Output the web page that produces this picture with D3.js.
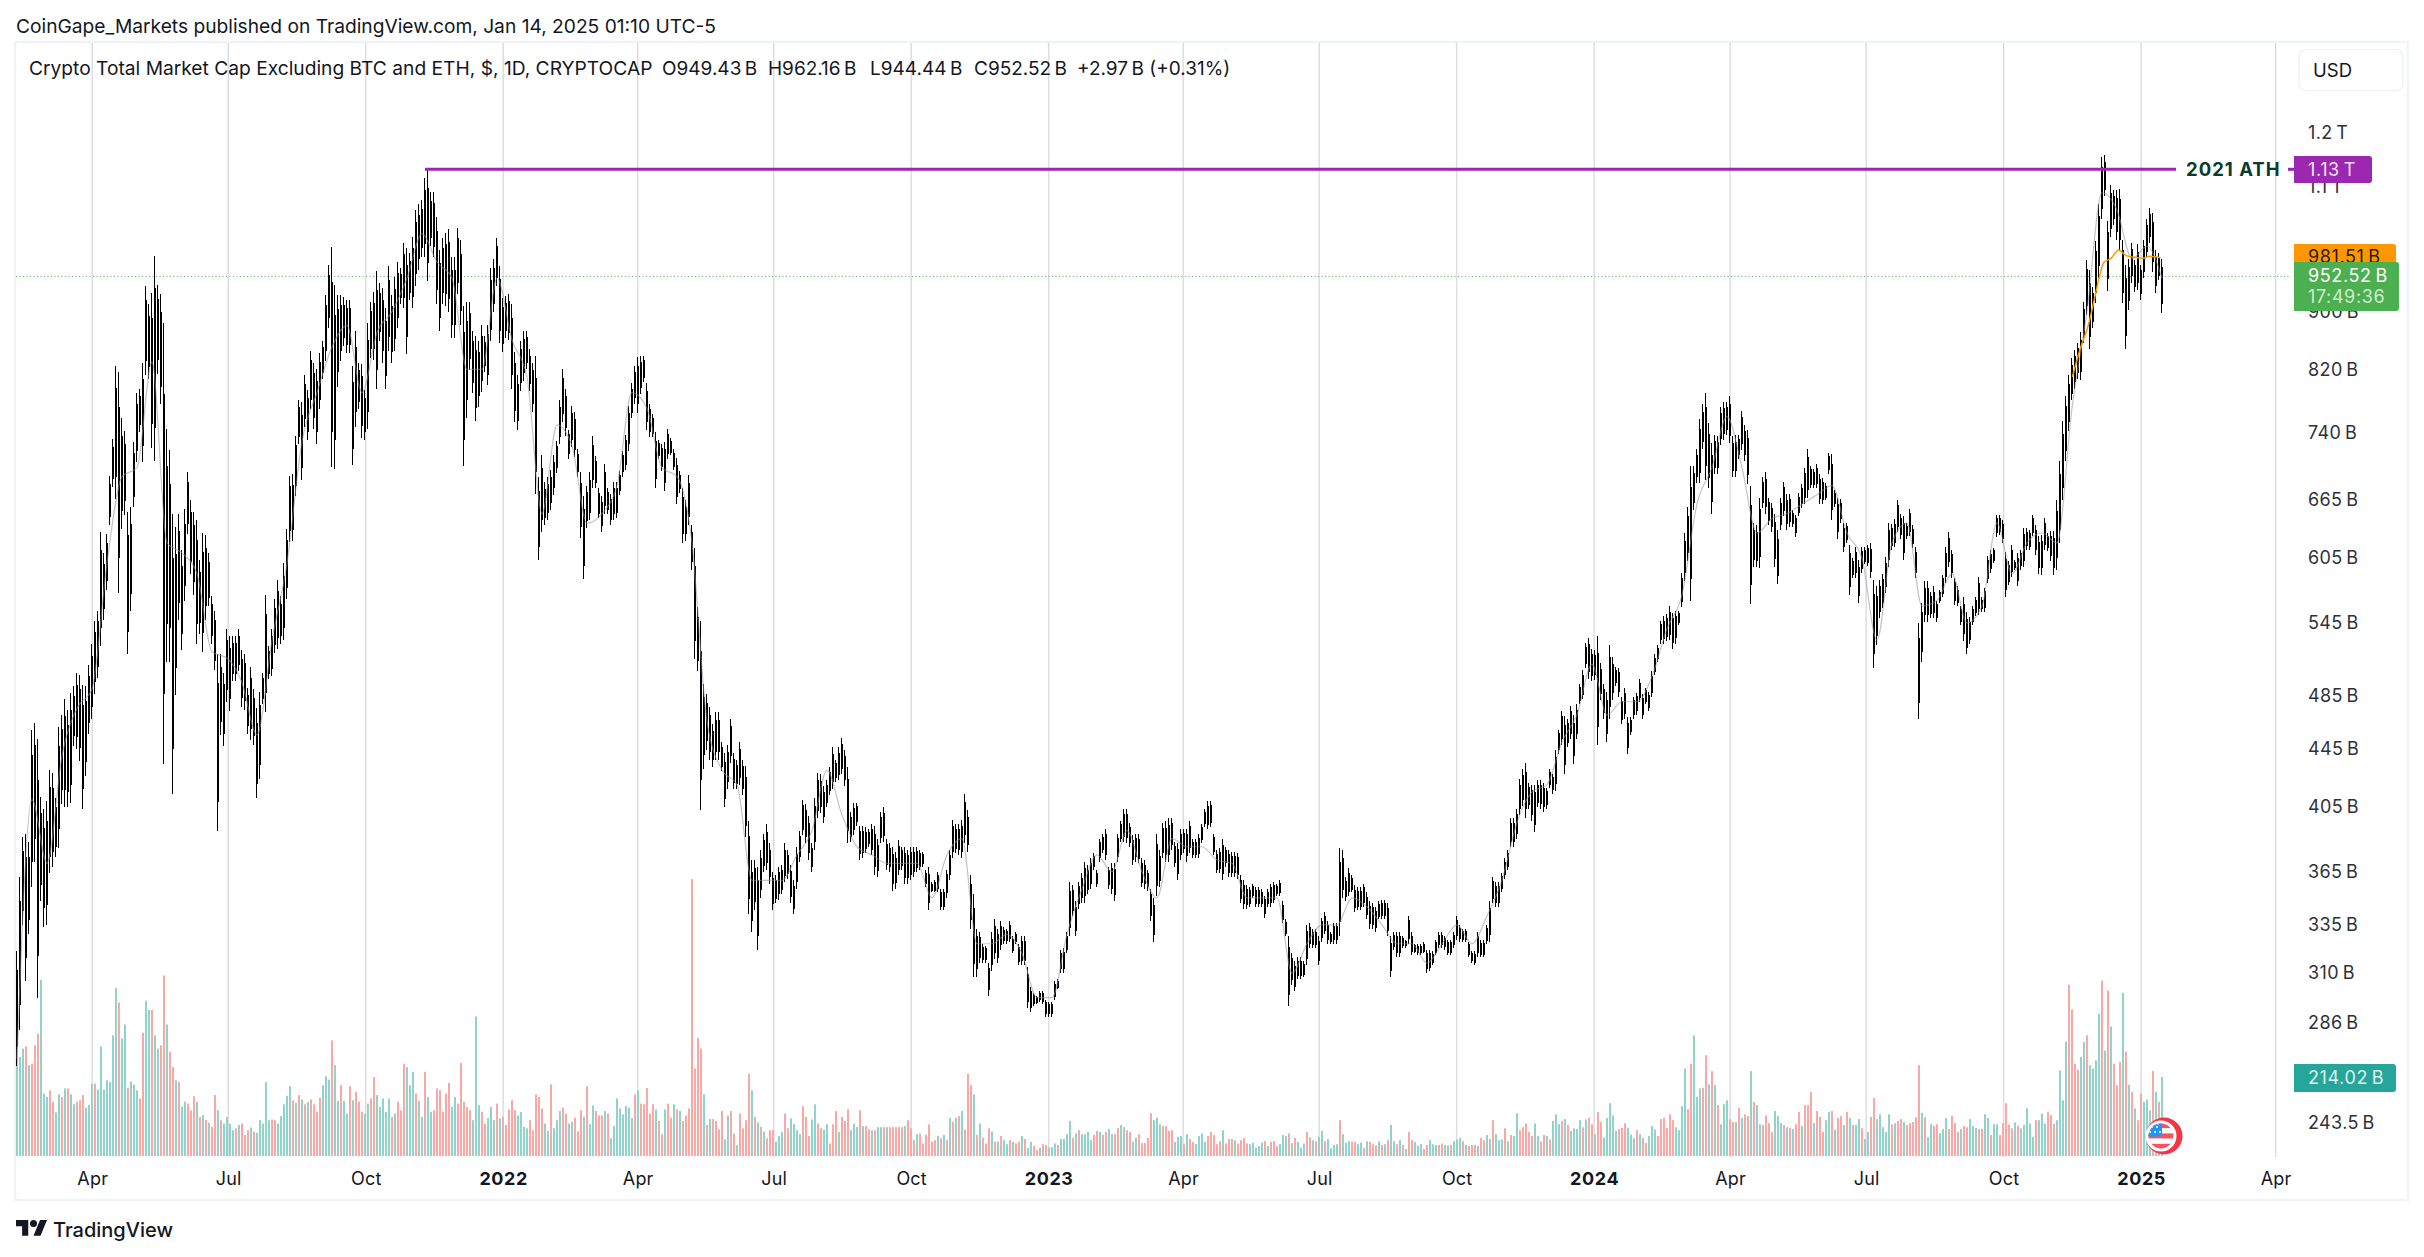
<!DOCTYPE html>
<html>
<head>
<meta charset="utf-8">
<script src="https://cdn.jsdelivr.net/npm/d3@7/dist/d3.min.js"></script>
<style>
html,body{margin:0;padding:0;background:#fff;overflow:hidden}
text{font-family:Inter,"Noto Sans",sans-serif}
</style>
</head>
<body>
<svg id="c" width="2424" height="1257" xmlns="http://www.w3.org/2000/svg"></svg>
<script>
// Values, in billions of USD. One entry per visible stripe (about two days).
const highs=[
321,362,386,388,383,459,464,452,412,404,409,430,428,411,461,
470,482,474,487,492,503,501,493,492,509,527,547,556,631,610,
629,691,733,824,817,758,743,652,657,729,789,794,829,938,911,
927,985,939,926,883,745,720,650,636,650,613,655,695,664,652,
643,603,630,628,610,569,556,518,518,503,540,534,534,534,540,
522,518,491,508,490,475,488,503,570,525,540,566,584,569,600,
634,691,693,737,780,778,812,793,845,829,820,842,858,925,971,
999,939,925,925,922,917,917,824,872,829,827,793,884,914,929,
961,942,935,905,968,924,951,975,965,1005,997,989,1015,1060,1070,
1077,1117,1130,1091,1091,1048,994,1014,1022,1028,983,983,1030,1010,908,
914,914,873,865,858,881,865,881,965,979,1013,968,920,923,926,
911,843,812,859,873,873,847,829,838,689,714,684,689,697,714,
731,780,820,795,744,773,766,721,695,669,680,695,736,713,677,
669,704,677,671,684,684,696,719,738,773,802,825,837,838,838,
802,776,763,741,732,727,730,745,734,721,711,696,677,664,692,
638,615,559,547,494,486,476,463,472,472,450,442,448,467,442,
437,450,437,433,396,372,372,368,378,388,394,382,365,363,368,
369,382,378,369,360,380,390,410,407,399,382,411,428,427,419,
423,432,446,437,446,453,444,432,402,408,408,393,393,392,391,
394,393,385,402,405,385,382,380,377,384,380,380,378,380,380,
380,378,377,366,368,359,360,365,355,355,366,378,397,394,394,
397,414,403,363,352,333,331,325,324,315,331,338,333,337,334,
333,337,329,331,325,329,329,313,303,300,299,301,301,297,296,
296,306,307,322,323,331,359,357,348,359,364,371,369,373,376,
366,385,388,391,368,370,370,388,396,404,404,395,387,388,388,
373,372,366,355,350,388,378,395,396,398,398,383,382,391,391,
391,396,385,385,388,394,404,409,409,388,378,379,385,380,378,
377,377,376,363,360,357,356,358,356,356,355,351,355,358,359,
358,360,348,338,329,320,316,318,318,316,335,336,333,333,329,
339,342,337,331,336,336,379,378,362,367,363,357,356,356,358,
353,348,347,345,348,349,349,347,329,331,331,331,329,327,340,
331,325,325,325,326,322,322,321,327,331,331,329,327,327,331,
340,335,333,333,326,321,321,331,327,327,335,348,362,359,359,
364,373,378,398,398,404,424,431,435,421,420,420,423,423,421,
418,431,427,444,459,473,469,467,477,470,478,494,505,528,532,
523,522,534,511,494,488,526,516,508,507,484,491,468,468,484,
487,498,486,491,488,504,518,526,547,551,553,560,554,556,556,
591,630,657,702,702,721,757,775,789,752,728,738,737,772,778,
778,785,736,738,738,767,750,744,680,640,638,667,689,695,667,
661,650,633,667,684,671,671,654,649,672,682,700,721,702,698,
704,693,688,683,717,716,675,667,665,640,640,618,605,616,603,
616,616,618,620,584,578,584,590,606,640,639,644,664,650,647,
640,655,638,616,545,563,583,583,573,578,565,575,589,616,631,
613,586,578,560,568,555,550,560,568,587,568,577,607,613,615,
649,649,643,611,602,618,603,610,613,635,635,633,649,638,627,
628,645,630,632,632,664,707,754,786,812,835,846,856,871,914,
978,962,937,1009,1070,1155,1158,1042,1104,1095,1095,1097,1010,971,980,
1006,978,1003,971,1010,1045,1063,1055,994,989,980];

const lows=[
267,283,335,306,330,356,371,298,348,334,335,364,368,374,379,
407,405,405,408,447,445,436,404,426,456,467,486,499,525,548,
575,638,679,666,572,634,649,518,556,657,706,741,706,812,808,
722,708,814,775,434,512,512,414,485,548,522,565,629,590,570,
527,535,520,548,560,527,505,390,455,447,480,473,496,496,504,
476,474,456,451,448,411,424,478,472,498,500,519,523,527,530,
566,621,622,669,727,686,747,732,769,745,727,769,808,831,876,
701,698,797,831,851,842,842,703,747,769,734,732,745,835,832,
794,858,829,794,845,829,845,876,911,905,840,917,905,938,963,
983,983,946,1000,983,911,873,911,908,899,862,863,926,881,702,
758,819,789,754,772,791,817,800,858,899,938,855,843,863,860,
795,753,744,792,805,821,792,766,671,603,631,638,643,654,670,
694,727,753,737,710,724,712,690,625,585,635,643,677,677,645,
631,650,650,638,643,645,670,690,697,719,758,776,765,788,803,
744,735,735,677,710,696,674,710,714,697,660,672,620,622,638,
594,514,504,403,431,444,437,432,437,437,429,405,417,435,417,
417,420,413,386,341,331,343,322,350,365,366,358,343,347,349,
352,359,361,347,341,355,371,387,382,372,365,378,398,401,395,
405,413,417,422,423,427,419,382,383,387,393,372,373,376,380,
375,363,362,382,383,366,365,354,355,363,366,358,358,360,362,
365,366,368,356,343,353,353,353,343,343,350,360,373,376,375,
373,382,377,333,308,308,315,315,315,299,311,317,315,322,325,
325,326,320,325,314,314,314,293,291,294,295,296,295,289,289,
289,297,302,310,310,320,329,340,329,344,347,347,352,355,366,
356,371,376,372,355,352,348,371,383,383,382,380,369,371,370,
356,355,354,337,326,351,356,373,371,371,378,368,360,372,376,
371,376,373,373,373,382,392,391,392,375,364,364,360,368,362,
362,362,361,347,344,344,345,350,345,345,345,339,345,345,347,
351,351,336,329,294,304,301,307,307,308,314,323,323,323,314,
326,330,325,325,325,325,329,350,348,351,353,342,343,343,345,
338,333,333,331,338,338,338,329,308,322,318,318,323,323,325,
319,320,319,319,320,310,311,314,319,323,323,322,319,319,323,
327,326,326,326,318,315,314,318,318,318,325,326,347,345,345,
353,361,366,380,380,385,400,406,398,404,396,389,405,404,402,
404,418,414,416,441,448,427,446,452,434,452,478,482,507,498,
496,497,448,481,467,450,467,481,492,484,463,467,441,455,467,
470,480,467,478,473,484,501,512,527,527,529,530,523,527,543,
559,583,602,565,654,683,683,721,686,677,650,693,693,726,732,
738,728,689,689,710,720,708,682,562,596,596,595,656,650,638,
631,596,580,633,647,633,636,636,626,647,656,660,667,677,677,
677,660,660,664,693,643,657,624,640,611,620,570,586,586,563,
591,599,597,586,507,526,549,558,572,596,613,616,631,624,603,
624,627,615,586,467,512,546,546,549,549,546,563,568,581,596,
586,561,560,543,529,518,527,543,551,552,555,555,581,591,600,
626,628,620,568,579,587,594,578,594,596,613,613,627,608,590,
589,613,612,602,589,594,620,664,707,743,780,795,808,806,856,
895,847,876,912,950,1045,1084,931,1015,1035,1010,994,912,847,903,
943,929,932,917,950,981,1006,960,927,947,898];

// Volume in billions; a negative sign marks a down bar (pink), positive an up bar (teal).
const volumes=[
302,268,291,-297,246,-250,-300,-331,477,169,160,-178,-147,118,167,
-160,183,-183,167,140,-147,-151,-165,131,138,196,-196,180,297,180,
205,200,327,455,-416,318,356,-185,202,193,178,-156,-334,421,396,
-396,327,291,-300,-489,356,-282,-241,205,-201,133,147,-142,-124,-162,
147,-106,111,-97,90,-79,-165,124,-97,88,106,88,70,-75,84,
-88,-57,-70,77,-66,63,97,88,200,97,-99,-97,88,108,140,
163,189,-151,144,-165,153,-140,146,-153,-140,-120,-158,192,216,207,
-313,246,149,-192,149,115,-189,151,-174,-147,-120,115,142,-156,-214,
165,133,156,120,156,-106,115,-147,-124,-250,241,192,228,-169,149,
106,-228,160,120,-124,-183,-178,-120,-169,-198,133,160,-142,-252,-147,
-133,-124,97,378,138,-120,-88,102,133,97,-142,102,-106,-84,-126,
-151,-124,110,119,79,75,-97,-70,-167,-160,-129,88,68,-194,75,
97,122,-131,-115,88,93,-104,-67,-124,106,-189,86,137,-122,-110,
-110,122,-115,48,81,156,129,113,135,131,103,-167,178,-142,-140,
-184,-115,-140,126,-95,-59,126,-142,-104,140,-126,122,-95,-110,-129,
-750,-237,-320,-291,167,-84,100,-100,-95,-72,-122,45,110,-122,-61,
29,-115,-75,-97,-223,178,-106,91,-79,66,-48,-70,-70,39,54,
65,-115,-75,102,86,70,59,-135,-106,-54,99,140,-88,-75,72,
86,-34,-86,-122,65,-106,-95,-127,70,88,79,-124,81,-81,-72,
70,-70,78,78,-78,78,-78,-78,-78,-78,-78,81,-97,-75,-43,
59,-61,-34,-57,-86,-39,-43,54,-48,57,-43,103,-93,103,-108,
122,-72,-223,-192,167,-57,88,-50,-34,-75,66,-39,39,-54,43,
32,-43,38,-34,-38,54,-46,22,38,-27,-16,22,-32,-30,23,
24,34,-30,46,46,59,95,-50,61,-70,59,59,65,43,-57,
-68,65,-57,-65,73,59,-59,-76,84,78,-70,-65,39,50,-59,
-35,-35,-49,-116,97,104,86,-81,-81,-68,-70,38,52,54,-32,
59,-46,-38,32,54,61,38,-54,-65,-57,-32,-40,70,-34,-46,
-46,43,-34,-43,-49,-34,32,36,23,27,36,-40,27,-38,-40,
-27,32,57,54,-61,35,-49,38,23,34,-65,-51,43,-40,52,
68,-40,46,21,30,32,-97,59,36,40,-39,-38,32,36,-22,
40,-38,-32,-29,40,-30,32,-43,84,40,-32,43,-30,19,-65,
-43,38,28,32,-19,-30,43,32,30,-30,-34,30,29,-30,40,
45,49,-40,30,-27,-30,-30,27,-49,-43,57,46,-97,59,43,
45,-75,40,-57,54,116,-70,-78,-88,-65,-54,88,54,-39,-57,
54,-45,95,113,86,-95,100,-84,68,75,73,97,-78,99,-103,
-86,59,-119,-92,50,103,143,110,68,-73,-76,-89,76,58,48,
-70,59,-49,-35,54,81,72,-54,-100,-103,-76,-113,-97,78,70,
135,237,-127,-250,327,160,183,-185,-273,194,-230,192,-138,86,140,
151,-100,-92,92,-130,103,-113,-108,230,-146,138,86,-84,-110,-89,
-65,122,108,89,-84,78,-76,73,-86,-119,81,-138,-138,-173,89,
-122,-106,-65,97,119,-122,72,-103,-108,84,-119,103,-84,84,100,
-75,46,65,-106,-157,100,113,78,65,113,-86,89,-95,-100,92,
-84,-89,-92,-105,-246,117,-105,51,86,-81,-86,62,73,103,-73,
-108,-89,-65,73,-81,-78,100,81,76,-73,-73,113,103,-57,86,
86,-57,-89,-143,-85,-75,91,-82,75,85,129,88,52,-97,97,
115,88,-120,-111,-88,97,232,151,310,-464,-397,-250,-234,268,309,
-327,246,237,259,385,-475,286,-448,351,-250,-192,-255,442,-283,193,
-174,129,-97,-169,147,153,124,-230,174,-147,214.02];

// Grey close trace, one value per five stripes.
const closeTrace=[
270,410,370, 440,475,490, 600,690,700, 830,620,610, 590,520,515, 495,455,530,
600,730,790, 850,880,790, 870,900,950, 1020,975,950, 820,820,950, 860,810,650,
750,725,640, 650,680,790, 770,700,690, 620,465,430, 420,360,360, 360,375,390,
430,400,380, 375,370,370, 370,350,375, 385,325,325, 330,320,298, 298,330,355,
375,365,390, 365,350,385, 380,380,372, 370,350,350, 350,310,325, 335,335,350,
345,335,325, 325,315,325, 335,325,340, 360,395,415, 420,450,470, 510,470,480,
480,500,540, 570,660,700, 760,700,630, 645,650,660, 670,680,630, 605,530,620,
640,560,565, 590,545,560, 640,590,620, 630,620,770, 900,1090,1060, 980,1000,950];

// Orange moving-average segment at the right end.
const maDates=["2024-11-16","2024-11-21","2024-11-27","2024-12-01","2024-12-04","2024-12-07","2024-12-12","2024-12-17","2024-12-22","2024-12-29","2025-01-02","2025-01-07","2025-01-14"];
const maValues=[810,846,883,921,951,974,981,994,985,982,981,984,981.51];

const priceTicks=[1200,1100,900,820,740,665,605,545,485,445,405,365,335,310,286,243.5];
const priceTickLabels=["1.2 T","1.1 T","900 B","820 B","740 B","665 B","605 B","545 B","485 B","445 B","405 B","365 B","335 B","310 B","286 B","243.5 B"];
const timeTicks=["2021-04-01","2021-07-01","2021-10-01","2022-01-01","2022-04-01","2022-07-01","2022-10-01","2023-01-01","2023-04-01","2023-07-01","2023-10-01","2024-01-01","2024-04-01","2024-07-01","2024-10-01","2025-01-01","2025-04-01"];
const timeTickLabels=["Apr","Jul","Oct","2022","Apr","Jul","Oct","2023","Apr","Jul","Oct","2024","Apr","Jul","Oct","2025","Apr"];
const athValue=1132, lastClose=952.52, lastVolume=214.02, maLast=981.51;

const published="CoinGape_Markets published on TradingView.com, Jan 14, 2025 01:10 UTC-5";
const title="Crypto Total Market Cap Excluding BTC and ETH, $, 1D, CRYPTOCAP";
const ohlcLabels=["O949.43\u2009B","H962.16\u2009B","L944.44\u2009B","C952.52\u2009B","+2.97\u2009B (+0.31%)"];
const ohlcStarts=[662,768,870,974,1077];

const W=2424,H=1257,L=16,T=43,PB=1157,R=2408,Bot=1200;
const svg=d3.select("#c");
const DAY=864e5, STEP=2.0074*DAY, T0=Date.UTC(2021,1,9);
const x=d3.scaleUtc().domain([new Date(T0),new Date(Date.UTC(2025,3,1))]).range([L,2275.6]);
const y=d3.scaleLog().domain([1387.5,230.5]).range([T,PB]);
const yv=d3.scaleLinear().domain([0,214.02]).range([1156,1077]);
const dt=i=>new Date(T0+i*STEP);
const ink="#131722";

// frame
svg.append("rect").attr("x",L-1).attr("y",T-1).attr("width",R-L+1).attr("height",Bot-T+1)
  .attr("fill","#fff").attr("stroke","#f0f3fa").attr("stroke-width",2.5);

// time axis + grid
const tDates=timeTicks.map(s=>new Date(s+"T00:00:00Z"));
const gx=svg.append("g").attr("transform",`translate(0,${PB})`)
  .call(d3.axisBottom(x).tickValues(tDates).tickSize(0).tickPadding(15)
    .tickFormat((d,i)=>timeTickLabels[i]));
gx.select(".domain").remove();
gx.selectAll("text").attr("font-size",18).attr("fill",ink)
  .attr("font-weight",(d,i)=>/^\d/.test(timeTickLabels[i])?700:400)
  .attr("letter-spacing",(d,i)=>/^\d/.test(timeTickLabels[i])?0.6:0.2);
svg.append("g").selectAll("line").data(tDates).join("line")
  .attr("x1",d=>x(d)).attr("x2",d=>x(d)).attr("y1",T).attr("y2",PB)
  .attr("stroke","#dcdde3").attr("stroke-width",1.5);

const plot=svg.append("g");

// volume
plot.append("g").selectAll("rect").data(volumes).join("rect")
  .attr("x",(d,i)=>Math.round(x(dt(i)))).attr("width",2)
  .attr("y",d=>yv(Math.abs(d))).attr("height",d=>yv(0)-yv(Math.abs(d)))
  .attr("fill",d=>d<0?"#f9a8a6":"#91d3ca");

// dotted last price
plot.append("line").attr("x1",L).attr("x2",2290).attr("y1",y(lastClose)).attr("y2",y(lastClose))
  .attr("stroke","#4caf50").attr("stroke-width",1).attr("stroke-dasharray","1 2.5");

// candles: a one-pixel full high-low line, with a second pixel over the central part of the range
const candles=plot.append("g").attr("shape-rendering","crispEdges");
candles.selectAll("rect.w").data(highs).join("rect").attr("class","w")
  .attr("x",(d,i)=>Math.round(x(dt(i)))).attr("width",1)
  .attr("y",d=>y(d)).attr("height",(d,i)=>y(lows[i])-y(d))
  .attr("fill","#000");
candles.selectAll("rect.b").data(highs).join("rect").attr("class","b")
  .attr("x",(d,i)=>Math.round(x(dt(i)))+1).attr("width",1)
  .attr("y",(d,i)=>y(d)+(y(lows[i])-y(d))*0.16).attr("height",(d,i)=>(y(lows[i])-y(d))*0.68)
  .attr("fill","#000");

// grey trace
plot.append("path").datum(closeTrace)
  .attr("d",d3.line().x((d,i)=>x(dt(i*5))+1).y(d=>y(d)).curve(d3.curveMonotoneX))
  .attr("fill","none").attr("stroke","#8f93a3").attr("stroke-width",1.2).attr("opacity",.55);

// orange MA
plot.append("path").datum(maValues)
  .attr("d",d3.line().x((d,i)=>x(new Date(maDates[i]+"T00:00:00Z"))).y(d=>y(d)).curve(d3.curveMonotoneX))
  .attr("fill","none").attr("stroke","#ff9800").attr("stroke-width",1.5);

// ATH line
const athY=y(athValue);
plot.append("line").attr("x1",425).attr("x2",2176).attr("y1",athY).attr("y2",athY).attr("stroke","#9c27b0").attr("stroke-width",3);
plot.append("line").attr("x1",2288).attr("x2",2296).attr("y1",athY).attr("y2",athY).attr("stroke","#9c27b0").attr("stroke-width",3);
svg.append("text").attr("x",2186).attr("y",athY).attr("dy","0.36em").attr("font-size",18.5).attr("font-weight",700)
  .attr("fill","#0c3b2e").attr("letter-spacing",1).text("2021 ATH");

// flag badge
const flag=svg.append("g").attr("transform","translate(2163,1136)");
flag.append("circle").attr("cx",1).attr("r",18.5).attr("fill","#f23645");
flag.append("circle").attr("cx",-2).attr("r",15.5).attr("fill","#fff");
const clip=svg.append("clipPath").attr("id","fc"); clip.append("circle").attr("cx",2161).attr("cy",1136).attr("r",12.5);
const fg=svg.append("g").attr("clip-path","url(#fc)");
["#f7525f","#fff","#f7525f","#fff","#f7525f"].forEach((c,i)=>fg.append("rect").attr("x",2148).attr("y",1123+i*5.2).attr("width",26).attr("height",5.3).attr("fill",c));
fg.append("rect").attr("x",2148).attr("y",1123).attr("width",14).attr("height",13.5).attr("fill","#2196f3");
[[2152,1127],[2157,1127],[2150,1132],[2155,1132],[2160,1132],[2158,1123.5],[2153,1122.8]].forEach(p=>fg.append("circle").attr("cx",p[0]).attr("cy",p[1]).attr("r",1).attr("fill","#fff"));

// price axis
const gy=svg.append("g").attr("transform","translate(2294,0)")
  .call(d3.axisRight(y).tickValues(priceTicks).tickSize(0).tickPadding(14)
    .tickFormat((d,i)=>priceTickLabels[i].replace(" ","\u2009")));
gy.select(".domain").remove();
gy.selectAll("text").attr("font-size",18).attr("fill","#2e3138").attr("letter-spacing",0.4);

// price tags: label, right edge, top, height, fill, text lines with their centres
function tag(x1,top,h,fill,lines){
  svg.append("path").attr("d",`M2294 ${top}H${x1-3}a3 3 0 0 1 3 3V${top+h-3}a3 3 0 0 1 -3 3H2294Z`).attr("fill",fill);
  lines.forEach(l=>svg.append("text").attr("x",2308).attr("y",l[1]).attr("dy","0.36em")
    .attr("font-size",18).attr("letter-spacing",0.6).attr("fill",l[2]).text(l[0]));
}
tag(2372,156,27,"#9c27b0",[["1.13\u2009T",169.5,"#f4e4f7"]]);
tag(2396,244,30,"#ff9800",[["981.51\u2009B",257,"#2a1c00"]]);
tag(2399,262,49,"#4caf50",[["952.52\u2009B",275.5,"#fff"],["17:49:36",297,"#cfeccf"]]);
tag(2396,1064,28,"#26a69a",[["214.02\u2009B",1077.5,"#dff5f2"]]);

// USD button
svg.append("rect").attr("x",2299).attr("y",49.5).attr("width",104).attr("height",41).attr("rx",7)
  .attr("fill","#fff").attr("stroke","#eceef3").attr("stroke-width",1.2);
svg.append("text").attr("x",2313).attr("y",70).attr("dy","0.36em").attr("font-size",18.5).attr("fill",ink).text("USD");

// texts
svg.append("text").attr("x",16).attr("y",26).attr("dy","0.36em").attr("font-size",19.2).attr("fill",ink).text(published);
svg.append("text").attr("x",29).attr("y",68).attr("dy","0.36em").attr("font-size",19.2).attr("fill",ink).text(title);
svg.append("g").selectAll("text").data(ohlcLabels).join("text")
  .attr("x",(d,i)=>ohlcStarts[i]).attr("y",68).attr("dy","0.36em").attr("font-size",19).attr("fill",ink).text(d=>d);

// TradingView logo
const lg=svg.append("g").attr("transform","translate(16,1216.5) scale(.875)").attr("fill",ink);
lg.append("path").attr("d","M14 22H7V11H0V4h14v18zM28 22h-8l7.5-18h8L28 22z");
lg.append("circle").attr("cx",20).attr("cy",8).attr("r",4);
svg.append("text").attr("x",53).attr("y",1230).attr("dy","0.36em").attr("font-size",20).attr("font-weight",500).attr("fill",ink).text("TradingView");
</script>
</body>
</html>
